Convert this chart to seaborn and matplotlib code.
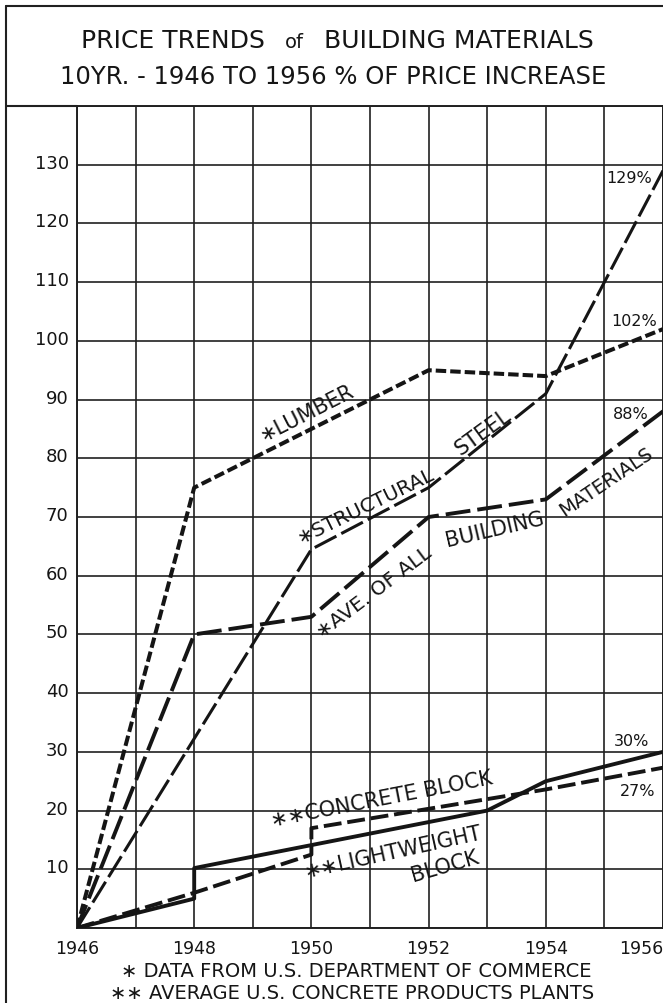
import matplotlib
matplotlib.use("Agg")
import matplotlib.pyplot as plt
import seaborn as sns
from matplotlib.lines import Line2D
from matplotlib.transforms import ScaledTranslation

# ---------------- data ----------------
lumber_years = [1946, 1948, 1952, 1954, 1956]
lumber_vals = [0, 75, 95, 94, 102]

steel_years = [1946, 1950, 1952, 1954, 1956]
steel_vals = [0, 64.5, 75, 91, 129]

avg_years = [1946, 1948, 1950, 1952, 1954, 1956]
avg_vals = [0, 50, 53, 70, 73, 88]

concrete_years = [1946, 1948, 1950, 1950, 1954, 1956]
concrete_vals = [0, 6, 12.5, 17, 23.6, 27.3]

light_years = [1946, 1948, 1948, 1953, 1954, 1956]
light_vals = [0, 5, 10.2, 20, 25, 30]

x_ticks = list(range(1946, 1957))
x_tick_labels = [str(y) if y % 2 == 0 else "" for y in x_ticks]
y_ticks = list(range(0, 141, 10))
y_tick_labels = [str(v) if 0 < v < 140 else "" for v in y_ticks]

end_labels = ["129%", "102%", "88%", "30%", "27%"]

title_1a = "PRICE TRENDS"
title_1b = "of"
title_1c = "BUILDING MATERIALS"
title_2 = "10YR. - 1946 TO 1956 % OF PRICE INCREASE"
note_1 = "\u2217 DATA FROM U.S. DEPARTMENT OF COMMERCE"
note_2 = "\u2217\u2217 AVERAGE U.S. CONCRETE PRODUCTS PLANTS"

# ---------------- style ----------------
sns.set_theme(style="white")
plt.rcParams["font.family"] = ["DejaVu Sans"]
INK = "#151515"
GRID = "#202020"

W, H = 663, 1004
fig = plt.figure(figsize=(W / 100, H / 100), dpi=100)
fig.patch.set_facecolor("white")

x0, x1, y_top, y_bot = 77, 663, 107, 929
ax = fig.add_axes([x0 / W, 1 - y_bot / H, (x1 - x0) / W, (y_bot - y_top) / H])
ax.set_facecolor("white")

def draw(xs, ys, lw, dashes=None):
    sns.lineplot(x=xs, y=ys, ax=ax, estimator=None, sort=False,
                 color=INK, linewidth=lw, legend=False)
    ln = ax.lines[-1]
    ln.set_solid_capstyle("butt")
    ln.set_dash_capstyle("butt")
    ln.set_solid_joinstyle("round")
    if dashes is not None:
        ln.set_dashes(dashes)
    ln.set_zorder(5)
    return ln

draw(lumber_years, lumber_vals, 2.9, (2.6, 1.0))
draw(steel_years, steel_vals, 2.2, (8, 1.8))
draw(avg_years, avg_vals, 2.8, (6.4, 1.8))
draw(concrete_years, concrete_vals, 2.8, (4.6, 1.5))
draw(light_years, light_vals, 2.8)

ax.set_xlim(1946, 1956)
ax.set_ylim(0, 140)
ax.set_xticks(x_ticks)
ax.set_xticklabels(x_tick_labels)
ax.set_yticks(y_ticks)
ax.set_yticklabels(y_tick_labels)
ax.tick_params(axis="both", length=0, colors=INK)
ax.tick_params(axis="x", labelsize=12.5, pad=8)
ax.tick_params(axis="y", labelsize=13, pad=6)
ax.grid(True, color=GRID, linewidth=1.2)
ax.set_axisbelow(True)
for s in ax.spines.values():
    s.set_color(GRID)
    s.set_linewidth(1.4)
ax.set_xlabel("")
ax.set_ylabel("")

# nudge y labels up a little, last x label right-aligned to the edge
for lab in ax.get_yticklabels():
    lab.set_transform(lab.get_transform() + ScaledTranslation(0, 4 / 100, fig.dpi_scale_trans))
xl = ax.get_xticklabels()
xl[-1].set_horizontalalignment("right")

# ---------------- in-plot labels ----------------
lab_kw = dict(color=INK, ha="center", va="center", rotation_mode="anchor", zorder=6)
ax.text(1949.91, 87.9, "\u2217LUMBER", rotation=27, fontsize=15, **lab_kw)
ax.text(1950.93, 72.0, "\u2217STRUCTURAL", rotation=26, fontsize=14.5, **lab_kw)
ax.text(1952.92, 84.6, "STEEL", rotation=36, fontsize=15, **lab_kw)
ax.text(1951.07, 57.2, "\u2217AVE. OF ALL", rotation=37, fontsize=14.5, **lab_kw)
ax.text(1953.13, 68.0, "BUILDING", rotation=13, fontsize=15, **lab_kw)
ax.text(1955.03, 76.2, "MATERIALS", rotation=34, fontsize=14, **lab_kw)
ax.text(1951.19, 22.0, "\u2217\u2217CONCRETE BLOCK", rotation=11, fontsize=15, **lab_kw)
ax.text(1951.39, 13.1, "\u2217\u2217LIGHTWEIGHT", rotation=12.5, fontsize=15, **lab_kw)
ax.text(1952.28, 10.6, "BLOCK", rotation=16, fontsize=15, **lab_kw)

end_pos = [(1955.04, 127.9, "left"), (1955.50, 103.4, "center"),
           (1955.45, 87.6, "center"), (1955.47, 32.0, "center"),
           (1955.56, 23.4, "center")]
for (ex, ey, ha), txt in zip(end_pos, end_labels):
    ax.text(ex, ey, txt, fontsize=11.5, color=INK, ha=ha, va="center", zorder=6)

# ---------------- frame, title, notes ----------------
def fx(px):
    return px / W

def fy(py):
    return 1 - py / H

frame_kw = dict(color=GRID, linewidth=1.5, transform=fig.transFigure)
fig.add_artist(Line2D([fx(6), fx(6)], [fy(7), fy(1004)], **frame_kw))
fig.add_artist(Line2D([fx(6), fx(663)], [fy(7), fy(7)], **frame_kw))
fig.add_artist(Line2D([fx(6), fx(77)], [fy(107), fy(107)], **frame_kw))

fig.text(fx(265), fy(48), title_1a, fontsize=18, color=INK, ha="right", va="baseline")
fig.text(fx(294), fy(48), title_1b, fontsize=14, color=INK, ha="center", va="baseline")
fig.text(fx(324), fy(48), title_1c, fontsize=18, color=INK, ha="left", va="baseline")
fig.text(fx(333), fy(84), title_2, fontsize=17.5, color=INK, ha="center", va="baseline")

fig.text(fx(356), fy(977), note_1, fontsize=14, color=INK, ha="center", va="baseline")
fig.text(fx(352), fy(999), note_2, fontsize=14, color=INK, ha="center", va="baseline")

fig.savefig("out.png", dpi=100, facecolor="white")
